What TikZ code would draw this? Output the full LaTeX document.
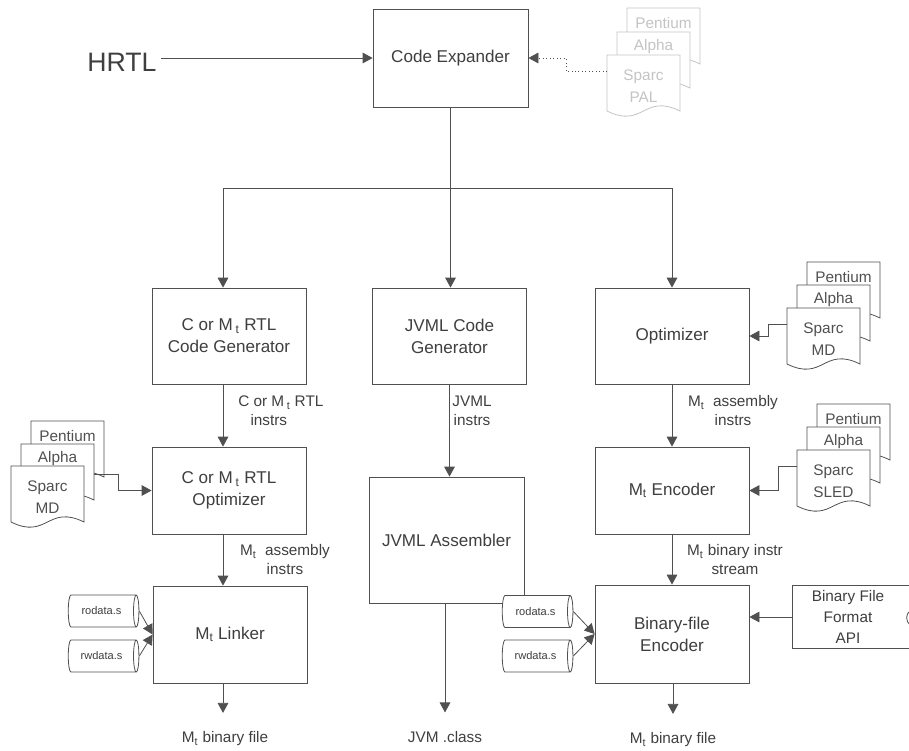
\documentclass[tikz,border=0pt]{standalone}
\usepackage{fontspec}
\setmainfont{Liberation Sans}
\usetikzlibrary{arrows.meta, shapes.geometric}

\definecolor{ink}{HTML}{3F3F3F}
\definecolor{linegray}{HTML}{505050}
\definecolor{faint}{HTML}{C4C4C4}

% one sheet of a document stack: name, top-left corner, colour, text height, text
\newcommand{\docsheet}[5]{%
  \begin{scope}[shift={#2}]
    \filldraw[sheet, draw=#3] (0,0) -- (73,0) -- (73,56)
      .. controls (36.5,38) and (36.5,74) .. (0,56) -- cycle;
    \node[sheettext, text=#3] (#1) at (36.5,#4) {#5};
    \coordinate (#1-w) at (0,16);
    \coordinate (#1-e) at (73,30);
  \end{scope}}

\begin{document}
\begin{tikzpicture}[x=0.75pt, y=-0.75pt,
    box/.style={draw=linegray, line width=0.6pt, fill=white, text=ink, align=center,
      minimum width=115.5pt, font=\fontsize{12.8}{16.5}\selectfont},
    lbl/.style={text=ink, align=center, inner sep=0pt, font=\fontsize{11.5}{14.25}\selectfont},
    flow/.style={draw=linegray, line width=0.6pt, -{Triangle[length=7.5pt, width=8pt]}},
    link/.style={draw=linegray, line width=0.6pt},
    sheet/.style={fill=white, line width=0.6pt},
    sheettext/.style={inner sep=0pt, align=center, font=\fontsize{11.5}{16.5}\selectfont},
    drum/.style={cylinder, draw=linegray, line width=0.6pt, fill=white, text=ink,
      minimum width=24pt, minimum height=53pt, aspect=0.5, inner sep=1pt,
      font=\fontsize{8.3}{9}\selectfont}]
        \useasboundingbox (0,0) rectangle (909,750);
        \clip (0,0) rectangle (909,750);

        % input and expander
        \node[text=ink, font=\fontsize{20}{24}\selectfont] (hrtl) at (122,62.5) {HRTL};
        \node[box, minimum width=116.25pt, minimum height=73.5pt] (expander) at (450.5,58) {Code Expander};
        \draw[flow] (hrtl.east |- expander.west) -- (expander.west);

        \docsheet{pentP}{(627,8)}{faint}{15}{Pentium}
        \docsheet{alphaP}{(617,32)}{faint}{15}{Alpha}
        \docsheet{sparcP}{(607,55)}{faint}{31}{Sparc\\PAL}
        \draw[flow, dotted] (sparcP-w) -- ++(-41,0) |- (expander.east);

        % fork into three back ends
        \coordinate (forkL) at (223,188);
        \coordinate (forkR) at (672,188);
        \draw[link] (expander.south) -- (expander.south |- forkL);
        \draw[link] (forkL) -- (forkR);

        \node[box, minimum height=72pt] (codegen) at (229,336) {C or M\,\textsubscript{t} RTL\\Code Generator};
        \node[box, minimum height=72pt] (jvmlgen) at (449.5,336) {JVML Code\\Generator};
        \node[box, minimum height=72pt] (optim) at (672,336) {Optimizer};
        \draw[flow] (forkL) -- (forkL |- codegen.north);
        \draw[flow] (expander.south |- forkL) -- (expander.south |- jvmlgen.north);
        \draw[flow] (forkR) -- (optim.north);

        \docsheet{pentR}{(807,262)}{linegray}{15}{Pentium}
        \docsheet{alphaR}{(797,285)}{linegray}{15}{Alpha}
        \docsheet{sparcR}{(787,308)}{linegray}{31}{Sparc\\MD}
        \draw[flow] (sparcR-w) -- ++(-19,0) |- (optim.east);

        % second row
        \node[box, minimum height=65.25pt] (rtlopt) at (229,490.5) {C or M\,\textsubscript{t} RTL\\Optimizer};
        \node[box, minimum width=116.25pt, minimum height=94.5pt] (jvmlasm) at (446.5,540) {JVML Assembler};
        \node[box, minimum height=65.25pt] (encoder) at (672,490.5) {M\textsubscript{t} Encoder};

        \node[lbl, anchor=west] (lblA) at (238,411) {C or M\,\textsubscript{t} RTL\\\hspace*{-18pt}instrs};
        \node[lbl] (lblB) at (472,411) {JVML\\instrs};
        \node[lbl] (lblC) at (733,411) {M\textsubscript{t}\ \ assembly\\instrs};
        \draw[flow] (forkL |- codegen.south) -- (forkL |- rtlopt.north);
        \draw[flow] (jvmlgen.south) -- (jvmlgen.south |- jvmlasm.north);
        \draw[flow] (optim.south) -- (encoder.north);

        \docsheet{pentL}{(31,421)}{linegray}{15}{Pentium}
        \docsheet{alphaL}{(21,444)}{linegray}{15}{Alpha}
        \docsheet{sparcL}{(11,466)}{linegray}{31}{Sparc\\MD}
        \draw[flow] (alphaL-e) -- ++(24,0) |- (rtlopt.west);

        \docsheet{pentS}{(817,404)}{linegray}{15}{Pentium}
        \docsheet{alphaS}{(807,427)}{linegray}{15}{Alpha}
        \docsheet{sparcS}{(797,450)}{linegray}{31}{Sparc\\SLED}
        \draw[flow] (sparcS-w) -- ++(-19,0) |- (encoder.east);

        % third row
        \node[box, minimum height=72.75pt] (linker) at (230,634.5) {M\textsubscript{t} Linker};
        \node[box, minimum height=73.5pt] (binenc) at (672,634) {Binary-file\\Encoder};
        \node[lbl] (lblD) at (285,560) {M\textsubscript{t}\ \ assembly\\instrs};
        \node[lbl] (lblE) at (735,560) {M\textsubscript{t} binary instr\\stream};
        \draw[flow] (forkL |- rtlopt.south) -- (forkL |- linker.north);
        \draw[flow] (encoder.south) -- (binenc.north);

        \node[drum] (rodL) at (101.5,611) {rodata.s};
        \node[drum] (rwL) at (101.5,656) {rwdata.s};
        \node[drum] (rodR) at (535.5,611.5) {rodata.s};
        \node[drum] (rwR) at (535.5,656) {rwdata.s};
        \draw[flow] (rodL.east) -- (linker.west);
        \draw[flow] (rwL.east) -- (linker.west);
        \draw[flow] (rodR.east) -- (binenc.west);
        \draw[flow] (rwR.east) -- (binenc.west);

        \draw[link, fill=white] (792,585) rectangle (940,648);
        \node[lbl, font=\fontsize{11.5}{15.75}\selectfont] (api) at (848,617) {Binary File\\Format\\API};
        \coordinate (apiw) at (792,617);
        \draw[flow] (apiw) -- (binenc.east |- apiw);
        \draw[link] (910,611) .. controls (905.5,614) and (905.5,621) .. (910,625);

        % outputs
        \node[lbl] (outL) at (225,739) {M\textsubscript{t} binary file};
        \node[lbl] (outM) at (445,737) {JVM .class};
        \node[lbl] (outR) at (673,740) {M\textsubscript{t} binary file};
        \draw[flow, shorten >=14pt] (forkL |- linker.south) -- (forkL |- outL.north);
        \draw[flow, shorten >=14pt] (outM |- jvmlasm.south) -- (outM.north);
        \draw[flow, shorten >=14pt] (outR |- binenc.south) -- (outR.north);
    \end{tikzpicture}
\end{document}
